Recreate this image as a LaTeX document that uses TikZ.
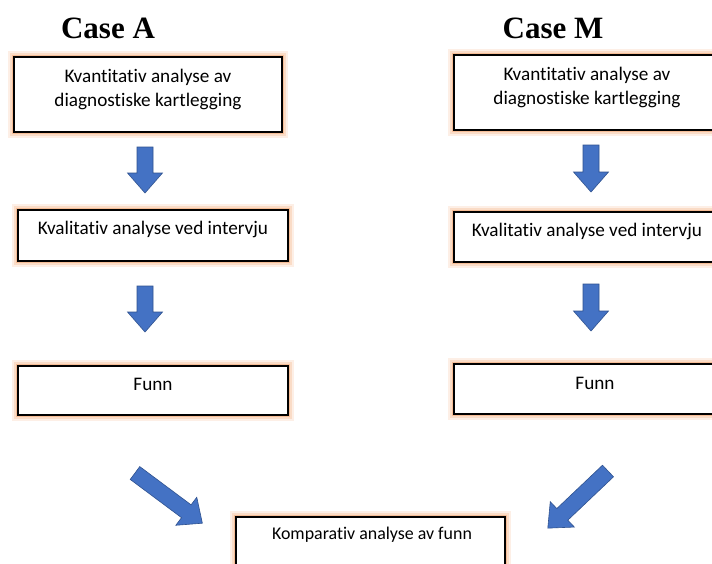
\documentclass[tikz,border=0pt]{standalone}
\usepackage{fontspec}
\setmainfont{Carlito}[Ligatures=CommonOff]
\newfontfamily\titlefont{Liberation Serif}
\definecolor{glow}{RGB}{244,177,131}
\definecolor{arrowblue}{RGB}{68,114,196}
\definecolor{arrowedge}{RGB}{47,82,143}
\begin{document}
\begin{tikzpicture}[x=1pt,y=-1pt,
  glowbox/.style={rectangle, draw=black, line width=1.2pt, fill=white, inner sep=0pt,
    preaction={draw=glow!20, line width=12pt},
    preaction={draw=glow!45, line width=8pt},
    preaction={draw=glow!85, line width=4pt}},
  txt/.style={font=\fontsize{19.2}{24}\selectfont, align=center, inner sep=0pt},
  smalltxt/.style={txt, font=\fontsize{17.9}{22}\selectfont},
  casetitle/.style={font=\titlefont\bfseries\fontsize{31}{36}\selectfont, inner sep=0pt},
  arrowshape/.style={fill=arrowblue, draw=arrowedge, line width=0.6pt, line join=miter},
  pics/barrow/.style={code={
    \path[arrowshape] (0,-8) -- ({#1-20},-8) -- ({#1-20},-17.5) -- (#1,0)
      -- ({#1-20},17.5) -- ({#1-20},8) -- (0,8) -- cycle;}}
]
\useasboundingbox (0,0) rectangle (712,563);
\fill[white] (0,0) rectangle (712,563);

% titles
\node[casetitle] (ta) at (108,28) {Case A};
\node[casetitle] (tm) at (553,28) {Case M};

% Case A boxes
\node[glowbox, minimum width=268pt, minimum height=75pt] (a1) at (148,94.5) {};
\node[txt] (a1t) at (148,89) {Kvantitativ analyse av\\diagnostiske kartlegging};
\node[glowbox, minimum width=270pt, minimum height=51pt] (a2) at (153,235.5) {};
\node[txt] (a2t) at (153,229.5) {Kvalitativ analyse ved intervju};
\node[glowbox, minimum width=270pt, minimum height=49pt] (a3) at (153,390.5) {};
\node[txt] (a3t) at (153,384.5) {Funn};

% Case M boxes
\node[glowbox, minimum width=266pt, minimum height=75pt] (m1) at (587,92.5) {};
\node[txt] (m1t) at (587,87) {Kvantitativ analyse av\\diagnostiske kartlegging};
\node[glowbox, minimum width=266pt, minimum height=50pt] (m2) at (587,237) {};
\node[txt] (m2t) at (587,231.5) {Kvalitativ analyse ved intervju};
\node[glowbox, minimum width=266pt, minimum height=50pt] (m3) at (587,389) {};
\node[txt] (m3t) at (595,383.5) {Funn};

% bottom box
\node[glowbox, minimum width=269pt, minimum height=62pt] (k) at (370.5,548) {};
\node[smalltxt] (kt) at (372,534.5) {Komparativ analyse av funn};

% block arrows
\pic[rotate=-90] at (145,147) {barrow=46};
\pic[rotate=-90] at (145,286) {barrow=46};
\pic[rotate=-90] at (591,145) {barrow=47};
\pic[rotate=-90] at (591,284) {barrow=47};
\pic[rotate=-36.7] at (135,473) {barrow=84};
\pic[rotate=-136.5] at (608,471) {barrow=83};
\end{tikzpicture}
\end{document}
